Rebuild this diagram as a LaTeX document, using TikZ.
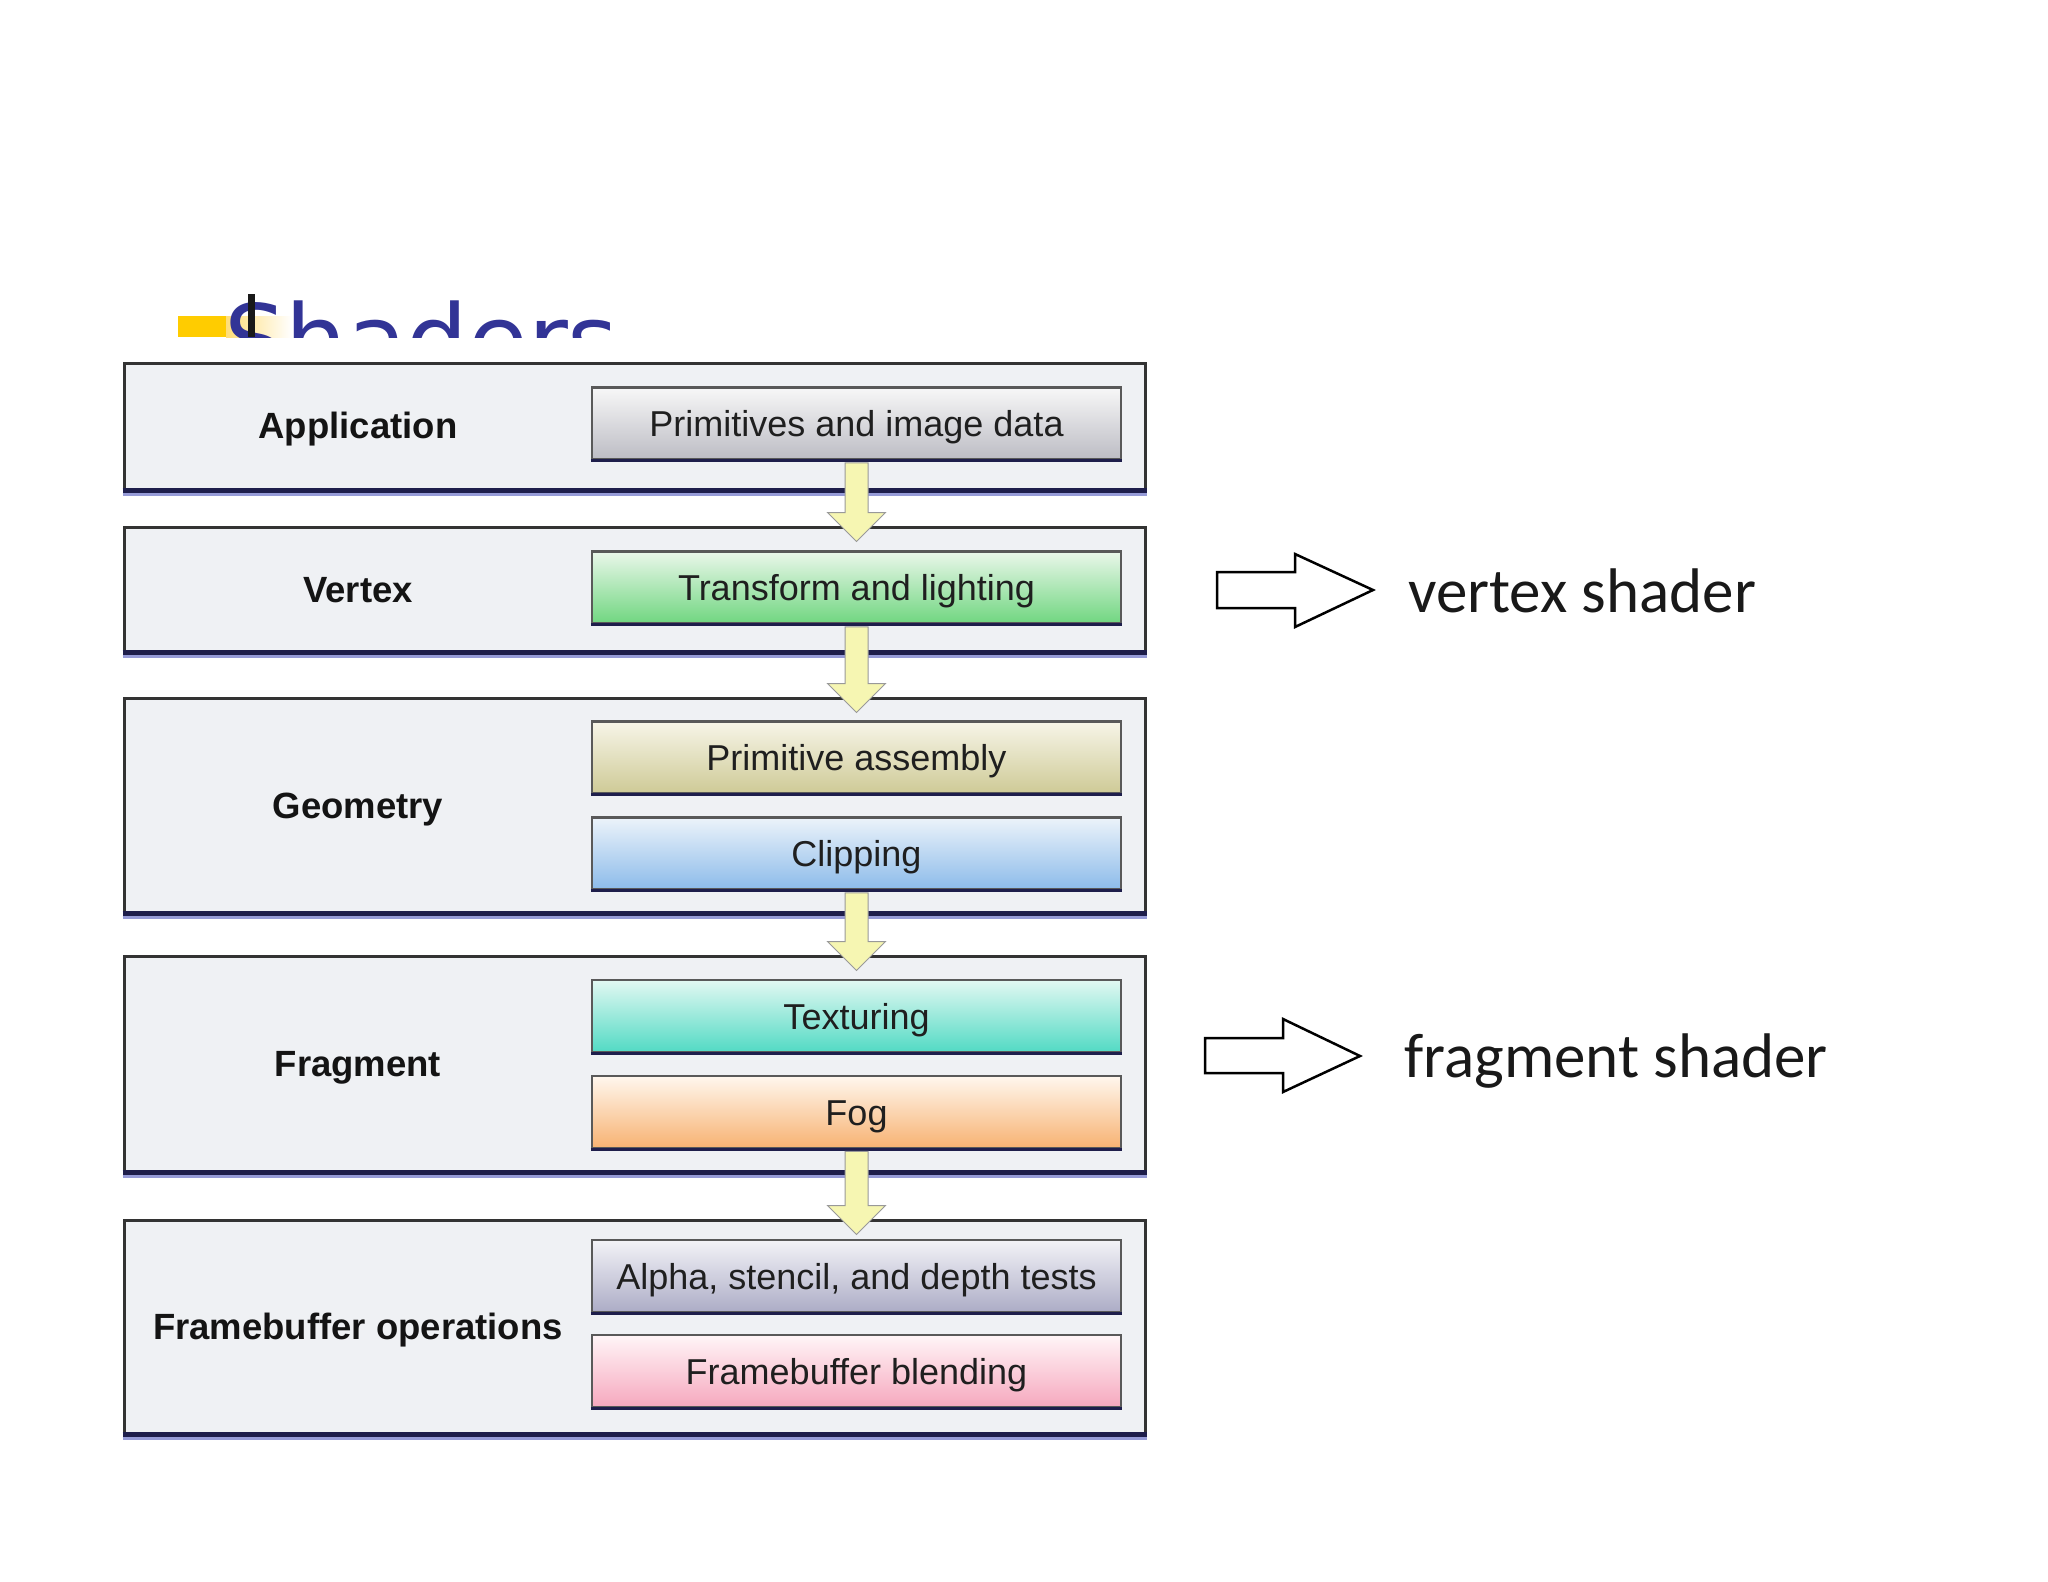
\documentclass[tikz,border=0pt]{standalone}
\usepackage{fontspec}
\setmainfont{Liberation Sans}
\newfontfamily\titlefont{DejaVu Sans}
\newfontfamily\calfont{Carlito}
\usetikzlibrary{calc}
\definecolor{titleblue}{RGB}{50,52,150}
\definecolor{barYellow}{RGB}{255,204,0}
\definecolor{barFade}{RGB}{255,222,120}
\definecolor{outerfill}{RGB}{239,241,244}
\definecolor{navy}{RGB}{30,30,75}
\definecolor{shadowblue}{RGB}{150,155,215}
\definecolor{yarrowfill}{RGB}{246,246,178}
\tikzset{
  outerbox/.style={draw=black!80, line width=3pt, fill=outerfill, minimum width=1021pt, inner sep=0pt},
  innerbox/.style={draw=black!65, line width=2.5pt, minimum width=529pt, minimum height=72pt, inner sep=0pt,
     text height=26pt, text depth=0pt,
     font=\fontsize{36}{36}\selectfont, text=black!88},
  stagelabel/.style={font=\bfseries\fontsize{36.5}{36.5}\selectfont, text=black!92, inner sep=0pt,
     text height=26.5pt, text depth=0pt},
  yarrow/.style={fill=yarrowfill, draw=black!40, line width=1pt, line join=miter},
  bigarrow/.style={draw=black, line width=2.5pt, fill=white, line join=miter},
  shadertext/.style={font=\calfont\fontsize{63}{63}\selectfont, anchor=base west, inner sep=0pt, text=black!90},
}
\begin{document}
\begin{tikzpicture}[x=1pt,y=-1pt]
\useasboundingbox (0,0) rectangle (2048,1582);
\fill[white] (0,0) rectangle (2048,1582);

% title (clipped)
\begin{scope}
\clip (0,0) rectangle (2048,337);
\fill[fill=barYellow] (178,316) rectangle (226,337);
\shade[left color=barFade, right color=white] (226,316) rectangle (292,337);
\node[anchor=base west, inner sep=0pt, text=titleblue, font=\titlefont\fontsize{97}{97}\selectfont] (title) at (224,374) {Shaders};
\fill[fill=black!90] (248,294) rectangle (255,337);
\end{scope}

% outer stage boxes
\node[outerbox, minimum height=126pt] (app)  at (634.5,426) {};
\node[outerbox, minimum height=124pt] (vert) at (634.5,589) {};
\node[outerbox, minimum height=214pt] (geom) at (634.5,805) {};
\node[outerbox, minimum height=215pt] (frag) at (634.5,1063.5) {};
\node[outerbox, minimum height=213pt] (fbo)  at (634.5,1326.5) {};
\foreach \n in {app,vert,geom,frag,fbo}{
  \draw[shadowblue, line width=3pt] ($(\n.south west)+(0,4)$) -- ($(\n.south east)+(0,4)$);
  \draw[navy, line width=4.5pt] (\n.south west) -- (\n.south east);
}

% stage labels
\node[stagelabel] (lapp)  at (358,425) {Application};
\node[stagelabel] (lvert) at (358,589) {Vertex};
\node[stagelabel] (lgeom) at (358,805) {Geometry};
\node[stagelabel] (lfrag) at (358,1063.5) {Fragment};
\node[stagelabel] (lfbo)  at (358,1326.5) {Framebuffer operations};

% inner boxes
\node[innerbox, top color=black!3, bottom color={rgb,255:red,188;green,188;blue,196}] (prim) at (856.5,423.5) {Primitives and image data};
\node[innerbox, top color={rgb,255:red,234;green,247;blue,234}, bottom color={rgb,255:red,112;green,214;blue,128}] (tl) at (856.5,587.5) {Transform and lighting};
\node[innerbox, top color={rgb,255:red,247;green,245;blue,232}, bottom color={rgb,255:red,206;green,202;blue,150}] (pa) at (856.5,757.5) {Primitive assembly};
\node[innerbox, top color={rgb,255:red,236;green,243;blue,250}, bottom color={rgb,255:red,140;green,187;blue,234}] (clip) at (856.5,853.5) {Clipping};
\node[innerbox, top color={rgb,255:red,226;green,248;blue,242}, bottom color={rgb,255:red,82;green,218;blue,196}] (tex) at (856.5,1016) {Texturing};
\node[innerbox, top color={rgb,255:red,255;green,247;blue,238}, bottom color={rgb,255:red,247;green,178;blue,114}] (fog) at (856.5,1112) {Fog};
\node[innerbox, top color={rgb,255:red,243;green,243;blue,247}, bottom color={rgb,255:red,172;green,172;blue,198}] (alpha) at (856.5,1276) {Alpha, stencil, and depth tests};
\node[innerbox, top color={rgb,255:red,255;green,245;blue,247}, bottom color={rgb,255:red,246;green,168;blue,190}] (blend) at (856.5,1371) {Framebuffer blending};
\foreach \n in {prim,tl,pa,clip,tex,fog,alpha,blend}{
  \draw[navy, line width=3pt] (\n.south west) -- (\n.south east);
}

% yellow flow arrows between stages
\foreach \a/\b in {prim/vert,tl/geom,clip/frag,fog/fbo}{
  \coordinate (tip) at (\a.south |- \b.north);
  \draw[yarrow] ($(\a.south)+(-11.5,2)$) -- ($(tip)+(-11.5,-13)$) -- ($(tip)+(-29,-13)$) -- ($(tip)+(0,16)$)
     -- ($(tip)+(29,-13)$) -- ($(tip)+(11.5,-13)$) -- ($(\a.south)+(11.5,2)$) -- cycle;
}

% shader annotations
\draw[bigarrow] (1217,572) -- (1295,572) -- (1295,554) -- (1373,590) -- (1295,627) -- (1295,608) -- (1217,608) -- cycle;
\node[shadertext] (vs) at (1408,612) {vertex shader};
\draw[bigarrow] (1205,1038) -- (1283,1038) -- (1283,1019) -- (1360,1056) -- (1283,1092) -- (1283,1073) -- (1205,1073) -- cycle;
\node[shadertext] (fs) at (1404,1077) {fragment shader};
\end{tikzpicture}
\end{document}
